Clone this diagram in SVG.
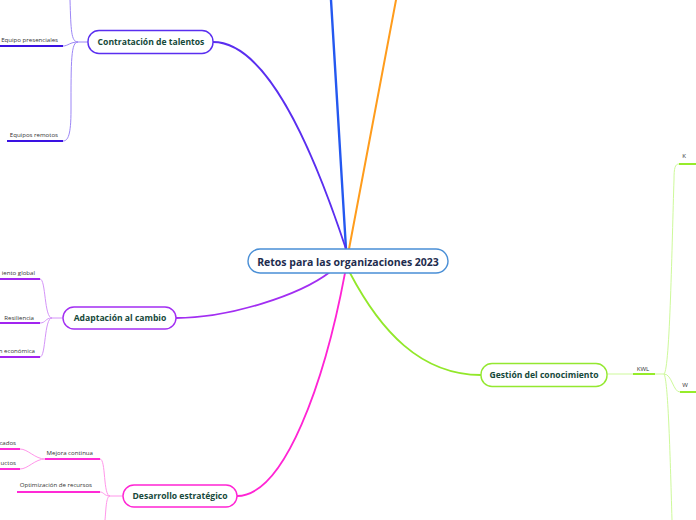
<svg xmlns="http://www.w3.org/2000/svg" width="696" height="520" viewBox="0 0 696 520">
<style>
.node{fill:#fff;stroke-width:1.4}
.lbl{font-family:"Open Sans","Noto Sans",sans-serif;font-weight:bold;fill:#16493a;text-anchor:middle}
.sub{font-family:"Open Sans","Noto Sans",sans-serif;font-size:6.1px;fill:#333;text-anchor:end}
.c{fill:none;stroke-linecap:round}
.br{fill:none;stroke-width:1}
.ul{fill:none;stroke-width:2}
</style>
<rect width="696" height="520" fill="#fff"/>
<g id="connectors">
  <path class="c" d="M346,249 L331,0" stroke="#2458f0" stroke-width="2.4"/>
  <path class="c" d="M349,249 L396,0" stroke="#ff9c1c" stroke-width="2"/>
  <path class="c" d="M346,249 C310,140 265,42 213,42" stroke="#5a2ef0" stroke-width="1.8"/>
  <path class="c" d="M330,272 C300,295 230,318 176,318" stroke="#a22ef2" stroke-width="1.8"/>
  <path class="c" d="M345,273 C325,380 285,496 237,496" stroke="#ff24d4" stroke-width="1.8"/>
  <path class="c" d="M350,273 C380,330 420,375 481,375" stroke="#92e82a" stroke-width="1.8"/>
  <g stroke="#9c86f6">
    <path class="br" d="M88,42 L78,42 C71,42 71,30 70,0"/>
    <path class="br" d="M78,42 C70,42 68,46 63,46"/>
    <path class="br" d="M78,42 C71,42 71,60 71,110 C71,135 68,141 63,141"/>
  </g>
  <g stroke="#3a12e2">
    <path class="ul" d="M63,46 L0,46"/>
    <path class="ul" d="M63,141 L7,141"/>
  </g>
  <g stroke="#d494f8">
    <path class="br" d="M63,318 L52,318 C44,318 46,279 40,279"/>
    <path class="br" d="M52,318 C45,318 46,323 40,323"/>
    <path class="br" d="M52,318 C44,318 46,357 40,357"/>
  </g>
  <g stroke="#a224f0">
    <path class="ul" d="M40,279 L0,279"/>
    <path class="ul" d="M40,323 L0,323"/>
    <path class="ul" d="M40,357 L0,357"/>
  </g>
  <g stroke="#ff96ea">
    <path class="br" d="M123,496 L110,496 C103,496 106,459 100,459"/>
    <path class="br" d="M110,496 C104,496 104,492 100,492"/>
    <path class="br" d="M110,496 C106,496 106,510 105,520"/>
    <path class="br" d="M45,459 C35,459 28,449 20,449"/>
    <path class="br" d="M45,459 C35,459 28,469 20,469"/>
  </g>
  <g stroke="#ff2ad6">
    <path class="ul" d="M100,459 L45,459"/>
    <path class="ul" d="M100,492 L17,492"/>
    <path class="ul" d="M20,449 L0,449"/>
    <path class="ul" d="M20,469 L0,469"/>
  </g>
  <g stroke="#cdf99a">
    <path class="br" d="M607,374 L664,374"/>
    <path class="br" d="M664,374 C670,370 672,240 674,180 C674,168 675,164 679,164"/>
    <path class="br" d="M664,374 C672,374 673,392 680,392"/>
    <path class="br" d="M664,374 C668,380 670,450 672,520"/>
  </g>
  <g stroke="#96ec2a">
    <path class="ul" d="M633,374 L655,374"/>
    <path class="ul" d="M679,164 L696,164"/>
    <path class="ul" d="M680,392 L696,392"/>
  </g>
</g>
<g id="central">
  <rect class="node" x="248" y="249" width="200" height="24" rx="12" stroke="#4a8fd6" stroke-width="1.2"/>
  <text class="lbl" x="348" y="265.5" font-size="10.5" style="fill:#1e2c4e">Retos para las organizaciones 2023</text>
</g>
<g id="contratacion">
  <rect class="node" x="88" y="30.5" width="125" height="23" rx="11" stroke="#5a2ef0"/>
  <text class="lbl" x="151" y="45.3" font-size="8.6">Contratación de talentos</text>
</g>
<g id="equipo-presenciales"><text class="sub" x="58" y="41.5">Equipo presenciales</text></g>
<g id="equipos-remotos"><text class="sub" x="58" y="136.5">Equipos remotos</text></g>
<g id="adaptacion">
  <rect class="node" x="63" y="307" width="113" height="22" rx="11" stroke="#a22ef2"/>
  <text class="lbl" x="120" y="321.2" font-size="8.6">Adaptación al cambio</text>
</g>
<g id="global"><text class="sub" x="35" y="274.5">iento global</text></g>
<g id="resiliencia"><text class="sub" x="34" y="319.5">Resiliencia</text></g>
<g id="economica"><text class="sub" x="35" y="352.5">n económica</text></g>
<g id="desarrollo">
  <rect class="node" x="123" y="485" width="114" height="22" rx="11" stroke="#ff24d4"/>
  <text class="lbl" x="180" y="499.2" font-size="8.6">Desarrollo estratégico</text>
</g>
<g id="mejora"><text class="sub" x="93" y="454.5">Mejora continua</text></g>
<g id="cados"><text class="sub" x="16" y="444.5">cados</text></g>
<g id="uctos"><text class="sub" x="16" y="464.5">uctos</text></g>
<g id="optimizacion"><text class="sub" x="92" y="486.5">Optimización de recursos</text></g>
<g id="gestion">
  <rect class="node" x="481" y="363.5" width="126" height="23" rx="11" stroke="#94e830"/>
  <text class="lbl" x="544" y="378.2" font-size="8.6">Gestión del conocimiento</text>
</g>
<g id="kwl"><text class="sub" x="643" y="370.5" style="text-anchor:middle">KWL</text></g>
<g id="k"><text class="sub" x="684" y="158" style="text-anchor:middle">K</text></g>
<g id="w"><text class="sub" x="685" y="387" style="text-anchor:middle">W</text></g>
</svg>
